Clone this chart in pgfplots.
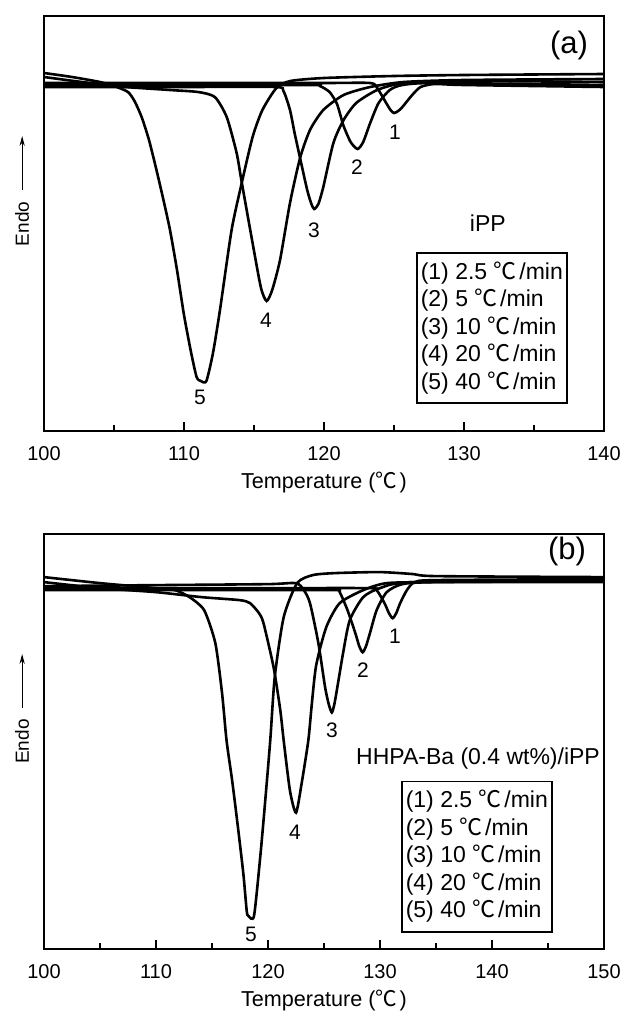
\documentclass[border=0pt]{standalone}
\usepackage{fontspec}
\setmainfont{Liberation Sans}
\newfontfamily\cjk{Noto Sans CJK SC}
\usepackage{pgfplots}
\pgfplotsset{compat=1.18}
\usetikzlibrary{arrows.meta}
\newcommand{\cel}{{\cjk ℃}\hspace{0.12em}}

\pgfplotsset{
  dsc/.style={
    scale only axis, width=280pt, height=207.5pt,
    axis line style={line width=0.8pt},
    tick align=inside, xtick pos=bottom, ytick=\empty,
    minor x tick num=1,
    major tick length=4.5pt, minor tick length=3pt,
    every tick/.style={black, line width=0.7pt},
    ticklabel style={font=\fontsize{10}{12}\selectfont},
    xticklabel style={yshift=-4pt},
    /pgf/number format/assume math mode=true,
    xlabel style={font=\fontsize{10.8}{12}\selectfont, yshift=1pt},
    xlabel={Temperature (\cel)},
    no markers, clip=false,
    every axis plot post/.append style={black, line width=1.3pt, smooth, tension=0.4},
  },
}
\tikzset{
  lbl/.style={font=\fontsize{10.5}{12}\selectfont},
  endo/.style={font=\fontsize{9.5}{11}\selectfont, rotate=90},
  upar/.style={line width=0.5pt, -{Stealth[length=5pt,width=2.6pt]}},
  box/.style={draw, line width=0.8pt, anchor=north west, align=left,
    inner xsep=2pt, inner ysep=4.5pt, font=\fontsize{11.5}{13.75}\selectfont},
}

\begin{document}
\begin{tikzpicture}
\useasboundingbox (-22pt,8pt) rectangle (290.5pt,-498pt);

% ---- (a) iPP ----
\begin{axis}[dsc, at={(0pt,0pt)}, anchor=north west,
  xmin=100, xmax=140, xtick={100,110,...,140}, ymin=0, ymax=415]
  % 1: 2.5 C/min
  \addplot coordinates {(100,348) (110,348) (120,348) (123.3,348) (123.8,343) (124.4,329)
    (124.75,321) (125.0,318) (125.3,320) (125.6,324) (126.3,336) (126.9,344) (127.9,347)
    (130,346) (140,344)};
  % 2: 5 C/min
  \addplot coordinates {(100,346) (110,346) (119,346) (119.7,345) (120.4,339) (120.9,328)
    (121.15,317) (121.4,305) (121.9,289) (122.4,282) (122.8,289) (123.3,308) (123.9,328)
    (124.7,341) (125.6,346) (128,348) (140,346)};
  % 3: 10 C/min
  \addplot coordinates {(100,344) (110,344) (116.5,344) (117.1,340) (117.57,321) (117.9,298)
    (118.29,273) (118.8,241) (119.1,227) (119.3,222) (119.6,227) (119.95,244) (120.67,288)
    (121.4,311) (122.3,328) (123.8,341) (125.7,348) (130,350) (140,349)};
  % 4: 20 C/min
  \addplot coordinates {(100,354) (105,345) (109,341) (111,339) (112.2,334) (113.05,314)
    (113.76,278) (114.12,249) (114.95,184) (115.5,143) (115.9,130) (116.3,141) (116.86,171)
    (117.57,228) (118.29,273) (119.0,301) (119.95,321) (121.4,336) (123.3,344) (125.7,349)
    (130,351) (140,352)};
  % 5: 40 C/min
  \addplot coordinates {(100,358) (102,354) (104,349) (105,345) (106,339) (106.5,329)
    (107,313) (107.5,291) (108,263) (108.5,233) (109,201) (109.5,161) (110,116) (110.5,79)
    (110.9,54) (111.2,50) (111.6,50) (112.07,78) (112.57,121) (113.4,201) (114.14,249)
    (114.9,294) (115.6,321) (116.6,343) (117.6,350) (120,353) (125,355) (130,356) (140,357)};

  \node[lbl] at (axis cs:125.07,299) {1};
  \node[lbl] at (axis cs:122.36,264) {2};
  \node[lbl] at (axis cs:119.29,201) {3};
  \node[lbl] at (axis cs:115.86,111) {4};
  \node[lbl] at (axis cs:111.14,34) {5};
  \node[font=\fontsize{15.5}{18}\selectfont] at (axis cs:137.5,386) {(a)};
  \node[font=\fontsize{11.5}{14}\selectfont] at (axis cs:131.7,208) {iPP};
  \node[box] at (axis cs:126.57,179) {(1) 2.5 \cel/min\\(2) 5 \cel/min\\(3) 10 \cel/min\\(4) 20 \cel/min\\(5) 40 \cel/min};
  \node[endo] at (rel axis cs:-0.039,0.499) {Endo};
  \draw[upar] (rel axis cs:-0.039,0.581) -- (rel axis cs:-0.039,0.711);
\end{axis}

% ---- (b) HHPA-Ba (0.4 wt%)/iPP ----
\begin{axis}[dsc, at={(0pt,-259pt)}, anchor=north west,
  xmin=100, xmax=150, xtick={100,110,...,150}, ymin=0, ymax=414]
  % 1: 2.5 C/min
  \addplot coordinates {(100,360) (110,360) (120,360) (129.0,360) (129.7,358) (130.4,345)
    (130.8,335) (131.13,330) (131.45,335) (131.8,345) (132.4,358) (133.1,366) (135,368)
    (150,369)};
  % 2: 5 C/min
  \addplot coordinates {(100,358) (110,358) (120,358) (126.0,358) (126.4,356) (127.1,338)
    (127.8,315) (128.15,302) (128.45,296) (128.75,302) (129.1,315) (129.7,338) (130.6,356)
    (132,364) (135,366) (150,367)};
  % 3: 10 C/min
  \addplot coordinates {(100,362) (110,363) (120,364) (122.5,365) (123.2,358) (123.75,345)
    (124.5,305) (125.1,261) (125.45,243) (125.7,236) (125.9,243) (126.1,255) (126.7,295)
    (127.3,328) (128.5,351) (130,360) (133,366) (150,368)};
  % 4: 20 C/min
  \addplot coordinates {(100,366) (105,360) (110,356) (114.1,351) (117.5,348) (118.4,345)
    (119.2,335) (119.6,325) (120.5,281) (121.1,238) (121.4,208) (121.96,158) (122.5,136)
    (123.0,165) (123.6,208) (123.9,243) (124.3,283) (125.2,321) (126.4,345) (128.5,358)
    (130.6,365) (135,366) (150,366)};
  % 5: 40 C/min
  \addplot coordinates {(100,371) (105,365) (110,360) (111.7,358) (113.0,351) (114.3,338)
    (115.3,305) (115.9,255) (116.3,208) (116.8,168) (117.3,123) (117.8,75) (118.1,38)
    (118.25,33) (118.75,33) (119.3,91) (119.7,141) (120.2,208) (120.6,271) (121.4,331)
    (122.6,365) (124,373) (126,375) (130,376) (133,374) (135,372) (150,371)};

  \node[lbl] at (axis cs:131.34,312) {1};
  \node[lbl] at (axis cs:128.48,278) {2};
  \node[lbl] at (axis cs:125.71,218) {3};
  \node[lbl] at (axis cs:122.41,116) {4};
  \node[lbl] at (axis cs:118.48,15) {5};
  \node[font=\fontsize{15.5}{18}\selectfont] at (axis cs:146.7,397) {(b)};
  \node[font=\fontsize{11.5}{14}\selectfont] at (axis cs:138.75,190) {HHPA-Ba (0.4 wt\%)/iPP};
  \node[box] at (axis cs:131.875,168) {(1) 2.5 \cel/min\\(2) 5 \cel/min\\(3) 10 \cel/min\\(4) 20 \cel/min\\(5) 40 \cel/min};
  \node[endo] at (rel axis cs:-0.039,0.5) {Endo};
  \draw[upar] (rel axis cs:-0.039,0.581) -- (rel axis cs:-0.039,0.711);
\end{axis}
\end{tikzpicture}
\end{document}
